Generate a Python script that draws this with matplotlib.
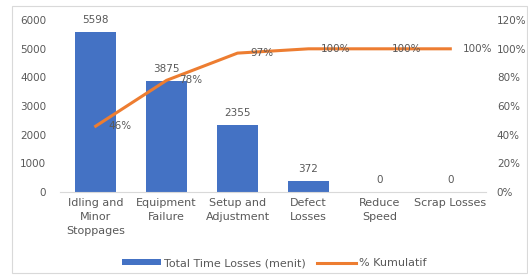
import matplotlib
matplotlib.use("Agg")
import matplotlib.pyplot as plt
from matplotlib.patches import Rectangle

categories = ["Idling and\nMinor\nStoppages", "Equipment\nFailure", "Setup and\nAdjustment",
              "Defect\nLosses", "Reduce\nSpeed", "Scrap Losses"]
losses = [5598, 3875, 2355, 372, 0, 0]
cumulative = [46, 78, 97, 100, 100, 100]
left_ticks = [0, 1000, 2000, 3000, 4000, 5000, 6000]
right_ticks = [0, 20, 40, 60, 80, 100, 120]

TEXT = "#595959"
plt.rcParams["font.family"] = ["DejaVu Sans"]
plt.rcParams["font.size"] = 7.5

fig = plt.figure(figsize=(5.28, 2.8), dpi=100)
fig.patches.append(Rectangle((0.023, 0.025), 0.975, 0.955, transform=fig.transFigure,
                             fill=False, edgecolor="#d9d9d9", linewidth=0.8))
ax = fig.add_axes([0.114, 0.314, 0.806, 0.614])
x = list(range(len(categories)))

ax.bar(x, losses, width=0.57, color="#4472C4", label="Total Time Losses (menit)", zorder=2)
ax.set_ylim(0, 6000)
ax.set_xlim(-0.5, len(categories) - 0.5)
ax.set_yticks(left_ticks)
ax.set_xticks(x)
ax.set_xticklabels(categories, color=TEXT, fontsize=8, linespacing=1.55)
for spine in ["top", "right", "left"]:
    ax.spines[spine].set_visible(False)
ax.spines["bottom"].set_color("#d9d9d9")
ax.tick_params(axis="both", length=0, colors=TEXT)
ax.tick_params(axis="y", pad=10)
ax.tick_params(axis="x", pad=4)
for xi, v in zip(x, losses):
    ax.annotate(f"{v}", (xi, v), xytext=(0, 5), textcoords="offset points",
                ha="center", va="bottom", color=TEXT)

ax2 = ax.twinx()
ax2.plot(x, cumulative, color="#ED7D31", linewidth=2.2, label="% Kumulatif", zorder=3)
ax2.set_ylim(0, 120)
ax2.set_yticks(right_ticks)
ax2.set_yticklabels([f"{t}%" for t in right_ticks])
ax2.tick_params(axis="y", length=0, colors=TEXT, pad=8)
for spine in ax2.spines.values():
    spine.set_visible(False)
for xi, v in zip(x, cumulative):
    ax2.annotate(f"{v}%", (xi, v), xytext=(9, 0), textcoords="offset points",
                 ha="left", va="center", color=TEXT)

h1, l1 = ax.get_legend_handles_labels()
h2, l2 = ax2.get_legend_handles_labels()
fig.legend(h1 + h2, l1 + l2, loc="center", bbox_to_anchor=(0.52, 0.06), ncol=2,
           frameon=False, fontsize=8, labelcolor=TEXT, handlelength=3.5,
           handleheight=0.5, columnspacing=1.0, handletextpad=0.3)

fig.savefig("out.png", dpi=100)
